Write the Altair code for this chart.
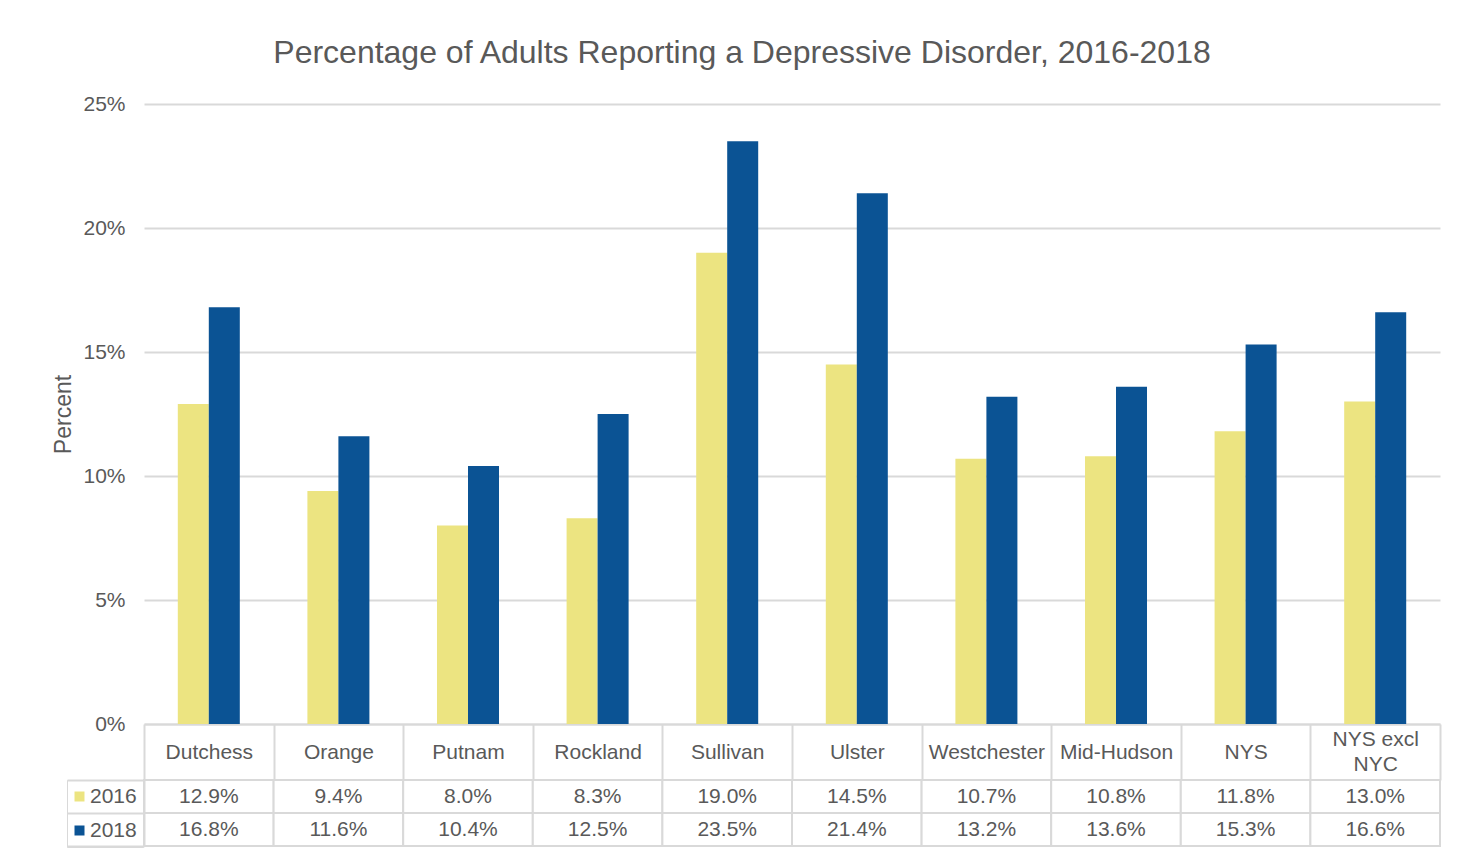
import altair as alt
import pandas as pd

categories = ["Dutchess", "Orange", "Putnam", "Rockland", "Sullivan", "Ulster",
              "Westchester", "Mid-Hudson", "NYS", "NYS excl NYC"]
years = ["2016", "2018"]
values_2016 = [12.9, 9.4, 8.0, 8.3, 19.0, 14.5, 10.7, 10.8, 11.8, 13.0]
values_2018 = [16.8, 11.6, 10.4, 12.5, 23.5, 21.4, 13.2, 13.6, 15.3, 16.6]
y_ticks = [0, 5, 10, 15, 20, 25]

FONT = "Liberation Sans"
TXT = "#595959"
GRID = "#d9d9d9"
YELLOW = "#ECE481"
BLUE = "#0B5394"

rows = []
for c, a, b in zip(categories, values_2016, values_2018):
    rows.append({"cat": c, "year": "2016", "value": a, "label": f"{a:.1f}%"})
    rows.append({"cat": c, "year": "2018", "value": b, "label": f"{b:.1f}%"})
df = pd.DataFrame(rows)

x_axis = alt.Axis(
    title=None, labelAngle=0, labelFont=FONT, labelFontSize=21, labelColor=TXT,
    labelExpr="datum.label == 'NYS excl NYC' ? ['NYS excl', 'NYC'] : datum.label",
    labelLineHeight=25, labelBaseline="middle",
    labelPadding={"condition": {"test": "datum.value == 'NYS excl NYC'", "value": -41},
                  "value": -28},
    ticks=True, tickSize=56, tickBand="extent", tickColor=GRID, tickWidth=2,
    domainColor=GRID, domainWidth=2,
)
x_enc = alt.X("cat:N", sort=categories,
              scale=alt.Scale(paddingInner=0, paddingOuter=0), axis=x_axis)

# offset slots: empty slot on each side keeps the pair centred in its cell
offset_domain = ["_left", "2016", "2018", "_right"]

bars = alt.Chart(df).mark_bar().encode(
    x=x_enc,
    xOffset=alt.XOffset("year:N",
                        scale=alt.Scale(domain=offset_domain, paddingInner=0,
                                        paddingOuter=0.09)),
    y=alt.Y("value:Q", scale=alt.Scale(domain=[0, 25], nice=False),
            axis=alt.Axis(values=y_ticks, labelExpr="datum.value + '%'",
                          title="Percent", titleFont=FONT, titleFontSize=23,
                          titleFontWeight="normal", titleColor=TXT, titlePadding=7,
                          labelFont=FONT, labelFontSize=21, labelColor=TXT,
                          labelPadding=19, grid=True, gridColor=GRID, gridWidth=2,
                          domain=False, ticks=False)),
    color=alt.Color("year:N", scale=alt.Scale(domain=years, range=[YELLOW, BLUE]),
                    legend=alt.Legend(orient="none", legendX=-77, legendY=676,
                                      title=None, symbolType="square", symbolSize=100,
                                      symbolStrokeWidth=0, symbolOffset={"expr": "-4"},
                                      labelFont=FONT, labelFontSize=21, labelColor=TXT,
                                      labelOffset=0, rowPadding=12,
                                      padding=6, strokeColor=GRID)),
)

# table rows: axis ticks draw the row dividers of the legend column
row_axis = alt.Axis(orient="left", title=None, labels=False, ticks=True,
                    tickBand="extent", tickSize=77, tickColor=GRID, tickWidth=2,
                    domainColor=GRID, domainWidth=2, grid=False)
row_y = alt.Y("year:N", sort=years,
              scale=alt.Scale(type="band", domain=years, range=[676, 742],
                              paddingInner=0, paddingOuter=0),
              axis=row_axis)

cells = alt.Chart(df).mark_rect(fill="white", stroke=GRID, strokeWidth=2).encode(
    x=x_enc, y=row_y)
texts = alt.Chart(df).mark_text(font=FONT, fontSize=21, color=TXT, baseline="middle").encode(
    x=x_enc, y=row_y, text="label:N")

chart = alt.layer(bars, alt.layer(cells, texts)).resolve_scale(y="independent").properties(
    width=1296, height=620,
    autosize=alt.AutoSizeParams(type="none"),
    padding={"left": 136, "top": 96, "right": 16, "bottom": 128},
    title=alt.TitleParams(
        "Percentage of Adults Reporting a Depressive Disorder, 2016-2018",
        font=FONT, fontSize=32, fontWeight="normal", color=TXT,
        anchor="middle", frame="group", dx=-50, dy=30, offset=28, baseline="alphabetic"),
).configure_view(stroke=None)

chart.save("out.html", embed_options={"renderer": "svg", "actions": False})
